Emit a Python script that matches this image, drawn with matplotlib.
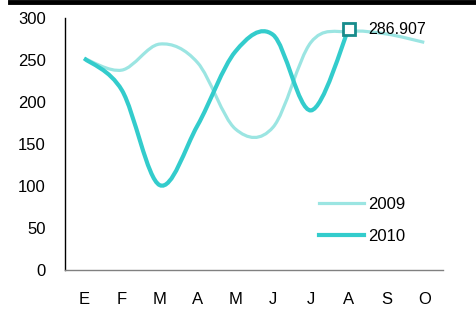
import numpy as np
import matplotlib
matplotlib.use("Agg")
import matplotlib.pyplot as plt
from matplotlib.path import Path
from matplotlib.patches import PathPatch
from matplotlib.lines import Line2D

plt.rcParams['font.family'] = ['Liberation Sans', 'DejaVu Sans']

months = ['E', 'F', 'M', 'A', 'M', 'J', 'J', 'A', 'S', 'O']
vals_2009 = [252, 238, 269, 247, 168, 170, 271, 284, 281, 271]
vals_2010 = [252, 214, 101, 172, 260, 280, 190, 286.907]
last_label = '286.907'

c2009 = '#9be5e2'
c2010 = '#33cccc'


def smooth_path(xs, ys, k=1.0 / 6):
    # bezier segments through the points, like a spreadsheet "smoothed line"
    verts = [(xs[0], ys[0])]
    codes = [Path.MOVETO]
    n = len(xs)
    for i in range(n - 1):
        a = i - 1 if i > 0 else i
        b = i + 2 if i + 2 < n else i + 1
        c1 = (xs[i] + k * (xs[i + 1] - xs[a]), ys[i] + k * (ys[i + 1] - ys[a]))
        c2 = (xs[i + 1] - k * (xs[b] - xs[i]), ys[i + 1] - k * (ys[b] - ys[i]))
        verts += [c1, c2, (xs[i + 1], ys[i + 1])]
        codes += [Path.CURVE4] * 3
    return Path(verts, codes)


fig = plt.figure(figsize=(4.76, 3.11), dpi=100)
ax = fig.add_axes([0.137, 0.132, 0.794, 0.810])

x09 = np.arange(len(vals_2009))
x10 = np.arange(len(vals_2010))
ax.add_patch(PathPatch(smooth_path(x09, vals_2009), fill=False,
                       edgecolor=c2009, lw=2.3, capstyle='butt'))
ax.add_patch(PathPatch(smooth_path(x10, vals_2010), fill=False,
                       edgecolor=c2010, lw=3.0, capstyle='butt'))

# last point marker and label
ax.plot(x10[-1], vals_2010[-1], marker='s', ms=9, mfc='white',
        mec='#178c8c', mew=2, zorder=5, clip_on=False)
ax.annotate(last_label, (x10[-1], vals_2010[-1]), xytext=(14, 0),
            textcoords='offset points', va='center', ha='left', fontsize=11.5)

ax.set_xlim(-0.5, len(months) - 0.5)
ax.set_ylim(0, 300)
ax.set_xticks(np.arange(len(months)))
ax.set_xticklabels(months)
ax.set_yticks(np.arange(0, 301, 50))
ax.tick_params(axis='both', length=0, labelsize=12)
ax.tick_params(axis='x', pad=16)
ax.tick_params(axis='y', pad=14)

for s in ['top', 'right']:
    ax.spines[s].set_visible(False)
ax.spines['left'].set_color('black')
ax.spines['left'].set_linewidth(1)
ax.spines['bottom'].set_color('#808080')
ax.spines['bottom'].set_linewidth(1)

handles = [Line2D([], [], color=c2009, lw=2.3),
           Line2D([], [], color=c2010, lw=3.0)]
ax.legend(handles, ['2009', '2010'], loc='upper left',
          bbox_to_anchor=(0.655, 0.315), frameon=False, fontsize=12,
          handlelength=2.7, handletextpad=0.2, labelspacing=1.0,
          borderaxespad=0)

# thick rule at the top of the image
fig.add_artist(Line2D([10 / 476, 1], [1 - 2 / 311] * 2, lw=3.5, color='black'))

fig.savefig('out.png', dpi=100)
